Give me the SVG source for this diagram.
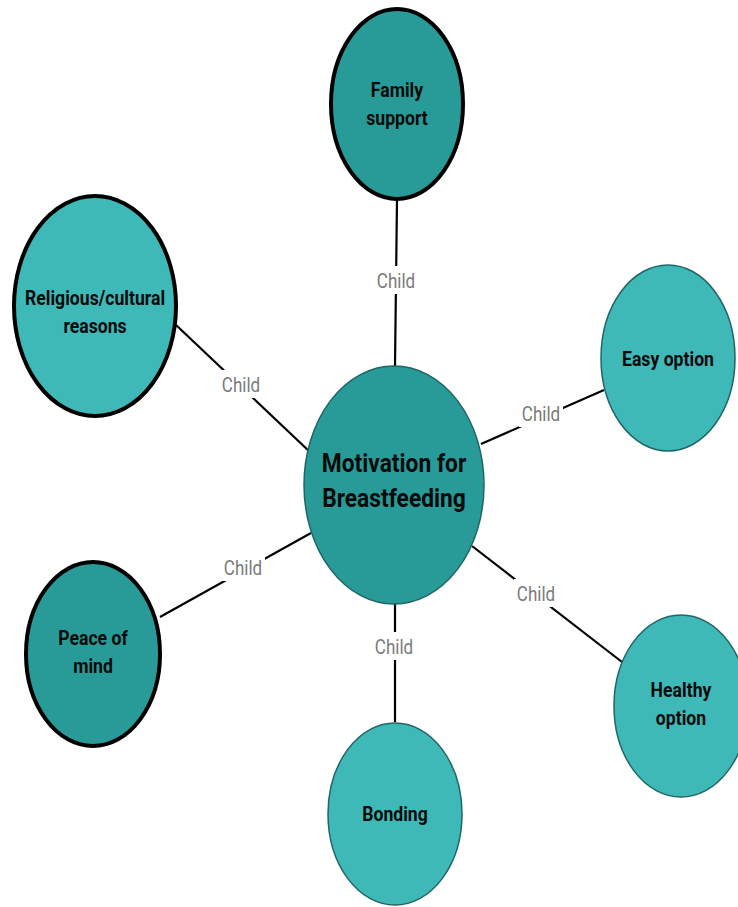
<svg xmlns="http://www.w3.org/2000/svg" width="738" height="907" viewBox="0 0 738 907">
  <style>
    .dark { fill: #289b98; }
    .light { fill: #3fb8b8; }
    .thin { stroke: #1f6664; stroke-width: 1.5; }
    .thick { stroke: #000000; stroke-width: 4; }
    .lbl { font-family: Roboto, "Liberation Sans", sans-serif; font-weight: bold; fill: #0a0a0a; text-anchor: middle; }
    .edge { stroke: #000000; stroke-width: 2.2; fill: none; }
    .elabel { font-family: Roboto, "Liberation Sans", sans-serif; font-size: 20px; fill: #7a7a7a; text-anchor: middle; }
    .gap { fill: #ffffff; }
  </style>
  <rect width="738" height="907" fill="#ffffff"/>

  <!-- edges: parent to each child, each broken by its label -->
  <g id="connectors">
    <line class="edge" x1="397" y1="200" x2="395" y2="366"/>
    <line class="edge" x1="176" y1="325" x2="310" y2="452"/>
    <line class="edge" x1="604" y1="390" x2="481" y2="444"/>
    <line class="edge" x1="160" y1="617" x2="311" y2="533"/>
    <line class="edge" x1="472" y1="546" x2="622" y2="662"/>
    <line class="edge" x1="395" y1="604" x2="395" y2="722"/>
    <rect class="gap" x="374" y="266" width="44" height="28"/>
    <rect class="gap" x="219" y="370" width="44" height="28"/>
    <rect class="gap" x="519" y="399" width="44" height="28"/>
    <rect class="gap" x="221" y="553" width="44" height="28"/>
    <rect class="gap" x="514" y="579" width="44" height="28"/>
    <rect class="gap" x="372" y="632" width="44" height="28"/>
    <text class="elabel" transform="translate(396,288) scale(0.85,1)">Child</text>
    <text class="elabel" transform="translate(241,392) scale(0.85,1)">Child</text>
    <text class="elabel" transform="translate(541,421) scale(0.85,1)">Child</text>
    <text class="elabel" transform="translate(243,575) scale(0.85,1)">Child</text>
    <text class="elabel" transform="translate(536,601) scale(0.85,1)">Child</text>
    <text class="elabel" transform="translate(394,654) scale(0.85,1)">Child</text>
  </g>

  <g id="center">
    <ellipse class="dark thin" cx="394" cy="485" rx="90" ry="119"/>
    <text class="lbl" font-size="26.5" transform="translate(394,472) scale(0.86,1)">Motivation for</text>
    <text class="lbl" font-size="26.5" transform="translate(394,507) scale(0.86,1)">Breastfeeding</text>
  </g>

  <g id="family-support">
    <ellipse class="dark thick" cx="397" cy="104" rx="66" ry="95"/>
    <text class="lbl" font-size="21" transform="translate(397,97) scale(0.84,1)">Family</text>
    <text class="lbl" font-size="21" transform="translate(397,125) scale(0.84,1)">support</text>
  </g>

  <g id="religious-cultural">
    <ellipse class="light thick" cx="95" cy="306" rx="81" ry="110"/>
    <text class="lbl" font-size="21" transform="translate(95,305) scale(0.84,1)">Religious/cultural</text>
    <text class="lbl" font-size="21" transform="translate(95,333) scale(0.84,1)">reasons</text>
  </g>

  <g id="easy-option">
    <ellipse class="light thin" cx="668" cy="358" rx="67" ry="93"/>
    <text class="lbl" font-size="21" transform="translate(668,366) scale(0.84,1)">Easy option</text>
  </g>

  <g id="peace-of-mind">
    <ellipse class="dark thick" cx="93" cy="654" rx="67" ry="92"/>
    <text class="lbl" font-size="21" transform="translate(93,645) scale(0.84,1)">Peace of</text>
    <text class="lbl" font-size="21" transform="translate(93,673) scale(0.84,1)">mind</text>
  </g>

  <g id="healthy-option">
    <ellipse class="light thin" cx="681" cy="706" rx="67" ry="91"/>
    <text class="lbl" font-size="21" transform="translate(681,697) scale(0.84,1)">Healthy</text>
    <text class="lbl" font-size="21" transform="translate(681,725) scale(0.84,1)">option</text>
  </g>

  <g id="bonding">
    <ellipse class="light thin" cx="395" cy="814" rx="67" ry="91"/>
    <text class="lbl" font-size="21" transform="translate(395,821) scale(0.84,1)">Bonding</text>
  </g>
</svg>
